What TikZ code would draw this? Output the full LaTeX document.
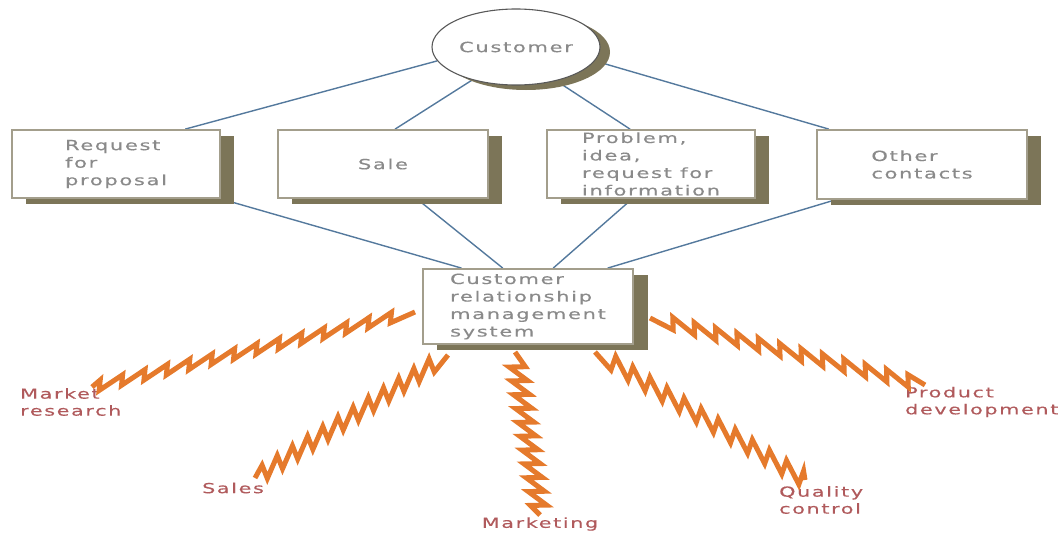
\documentclass[tikz,border=0pt]{standalone}
\usepackage{fontspec}
\setmainfont[FakeStretch=1.5,LetterSpace=12,FakeBold=0.3]{DejaVu Sans}
\usetikzlibrary{shapes.geometric,shadows,calc,decorations}

\definecolor{linkblue}{HTML}{54799D}
\definecolor{boxedge}{HTML}{A39E8C}
\definecolor{boxshade}{HTML}{7C7558}
\definecolor{boxtext}{HTML}{8A8A8A}
\definecolor{bolt}{HTML}{E57A2C}
\definecolor{depttext}{HTML}{B05A5C}

\pgfdeclarelayer{background}
\pgfsetlayers{background,main}

% lightning stroke: a long forward stroke across the axis, then a short one back
\pgfdeclaredecoration{lightning}{run}{
  \state{run}[width=\pgfdecorationsegmentlength]{
    \pgfpathlineto{\pgfqpoint{1.15\pgfdecorationsegmentlength}{\pgfdecorationsegmentamplitude}}
    \pgfpathlineto{\pgfqpoint{\pgfdecorationsegmentlength}{-\pgfdecorationsegmentamplitude}}
  }
  \state{final}{\pgfpathlineto{\pgfpointdecoratedpathlast}}
}

\begin{document}
\begin{tikzpicture}[x=1pt,y=-1pt,
  card/.style={draw=boxedge, line width=1.8pt, fill=white, text=boxtext,
    align=left, inner sep=0pt, font=\fontsize{14}{17.5}\selectfont,
    drop shadow={shadow xshift=14pt, shadow yshift=-6pt, fill=boxshade, opacity=1}},
  link/.style={draw=linkblue, line width=1.4pt},
  zap/.style n args={2}{draw=bolt, line width=5pt, line join=miter, miter limit=20,
    decorate, decoration={lightning, segment length=#1, amplitude=#2}},
  dept/.style={text=depttext, align=left, inner sep=0pt,
    font=\fontsize{13.8}{17}\selectfont}]

\useasboundingbox (0,0) rectangle (1059,533);

% customer and the four kinds of contact
\node[ellipse, draw=gray!70!black, line width=1.1pt, fill=white,
  minimum width=168pt, minimum height=76pt, inner sep=0pt, text=boxtext,
  font=\fontsize{14}{17.5}\selectfont,
  drop shadow={shadow xshift=10pt, shadow yshift=-5pt, fill=boxshade, opacity=1}]
  (cust) at (516,47) {Customer};

\node[card, minimum width=208pt, minimum height=68pt] (rfp) at (116,164) {Request\\for\\proposal};
\node[card, minimum width=210pt, minimum height=68pt] (sale) at (383,164) {Sale};
\node[card, minimum width=208pt, minimum height=68pt] (prob) at (651,164) {Problem,\\idea,\\request for\\information};
\node[card, minimum width=210pt, minimum height=69pt] (other) at (922,164.5) {Other\\contacts};

% central system
\node[card, minimum width=210pt, minimum height=75pt,
  drop shadow={shadow xshift=15pt, shadow yshift=-6pt, fill=boxshade, opacity=1}]
  (crm) at (528,306.5) {Customer\\relationship\\management\\system};

% connectors, kept behind the boxes and their shadows
\begin{pgfonlayer}{background}
  \draw[link] (cust.190) -- ($(rfp.north west)!0.83!(rfp.north east)$);
  \draw[link] (cust.217) -- ($(sale.north west)!0.557!(sale.north east)$);
  \draw[link] (cust.320) -- ($(prob.north west)!0.40!(prob.north east)$);
  \draw[link] (cust.350) -- ($(other.north west)!0.06!(other.north east)$);

  \draw[link] (rfp.south east) -- ($(crm.north west)!0.186!(crm.north east)$);
  \draw[link] ($(sale.south west)!0.66!(sale.south east)$) -- ($(crm.north west)!0.381!(crm.north east)$);
  \draw[link] ($(prob.south west)!0.41!(prob.south east)$) -- ($(crm.north west)!0.619!(crm.north east)$);
  \draw[link] ($(other.south west)!0.09!(other.south east)$) -- ($(crm.north west)!0.876!(crm.north east)$);
\end{pgfonlayer}

% departments fed by the system
\node[dept, anchor=west] (mr) at (20,402) {Market\\research};
\node[dept] (sal) at (233,488) {Sales};
\node[dept] (mkt) at (540,524) {Marketing};
\node[dept, anchor=west] (qc) at (779,500) {Quality\\control};
\node[dept, anchor=west] (pd) at (905,402) {Product\\development};

\coordinate (mrA) at (415,312); \coordinate (mrB) at (92,387);
\coordinate (saA) at (448,355); \coordinate (saB) at (255,478);
\coordinate (mkA) at (515,352); \coordinate (mkB) at (540,515);
\coordinate (qcA) at (595,352); \coordinate (qcB) at (805,480);
\coordinate (pdA) at (650,318); \coordinate (pdB) at (925,385);

\draw[zap={23pt}{5pt}] (mrA) -- (mrB);
\draw[zap={18pt}{7pt}] (saA) -- (saB);
\draw[zap={14pt}{8pt}] (mkA) -- (mkB);
\draw[zap={20pt}{-7pt}] (qcA) -- (qcB);
\draw[zap={22pt}{-6pt}] (pdA) -- (pdB);
\end{tikzpicture}
\end{document}
